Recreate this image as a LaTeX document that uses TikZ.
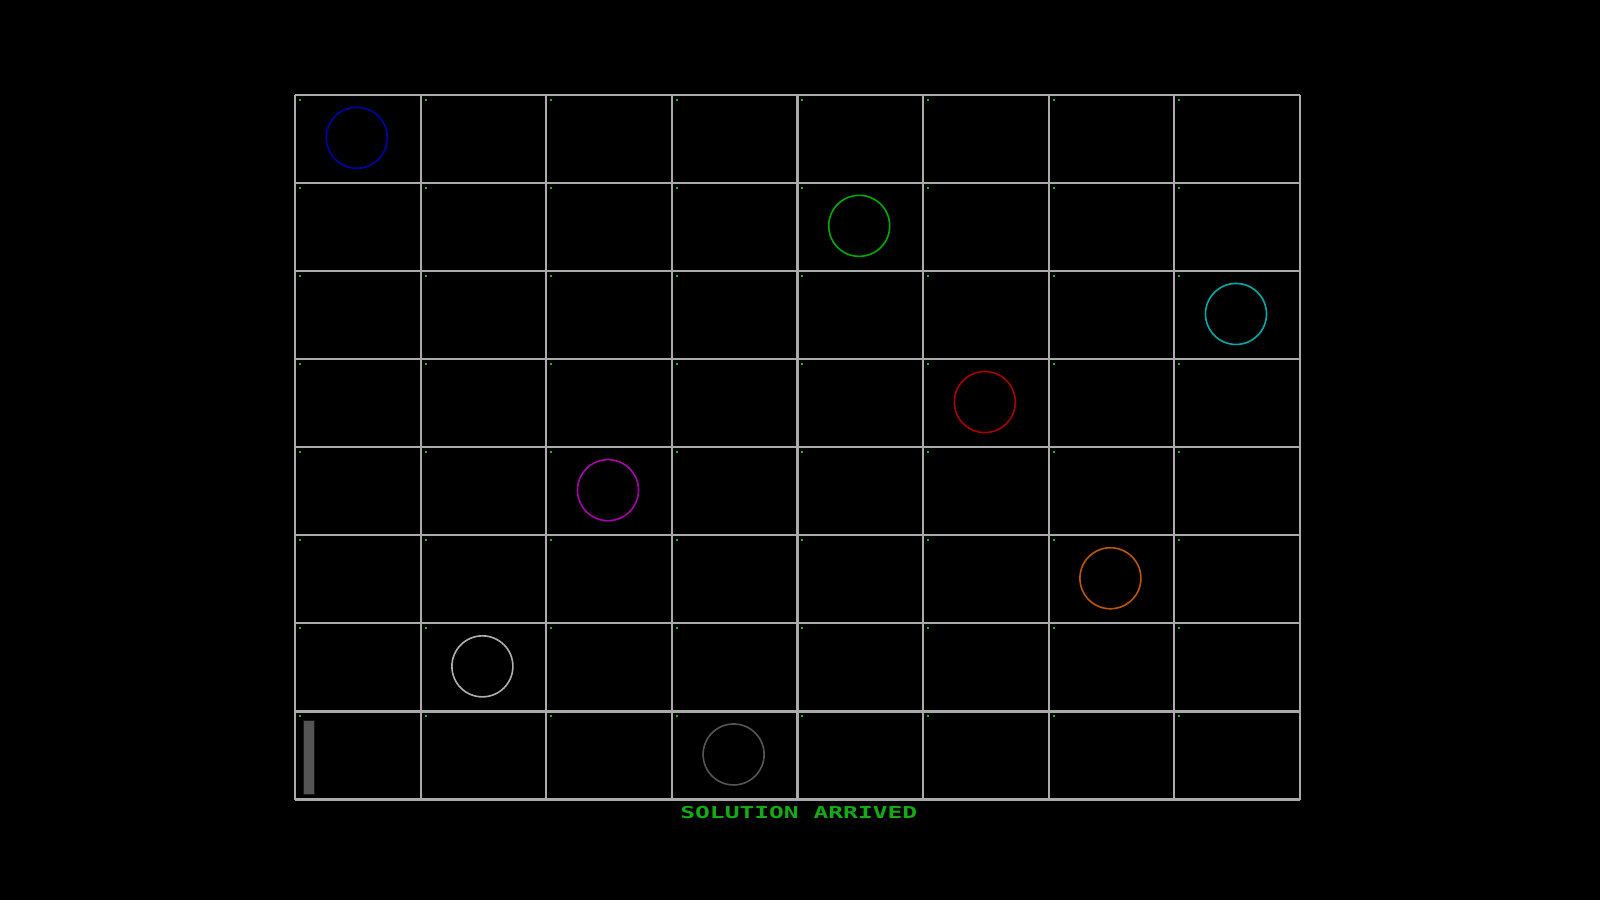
\documentclass[tikz,border=0pt]{standalone}
\usepackage{fontspec}
\newfontfamily\monofont{DejaVu Sans Mono}
\definecolor{gridc}{RGB}{170,170,170}
\definecolor{qblue}{RGB}{0,0,170}
\definecolor{qgreen}{RGB}{0,170,0}
\definecolor{qcyan}{RGB}{0,170,170}
\definecolor{qred}{RGB}{170,0,0}
\definecolor{qmag}{RGB}{170,0,170}
\definecolor{qorange}{RGB}{190,85,0}
\definecolor{qlight}{RGB}{175,175,175}
\definecolor{qdark}{RGB}{85,85,85}
\definecolor{dotc}{RGB}{0,200,0}
\definecolor{txtc}{RGB}{20,170,20}
\definecolor{barc}{RGB}{85,85,85}
\begin{document}
\begin{tikzpicture}[x=1pt,y=-1pt,
  gridline/.style={draw=gridc,line width=2.2pt},
  queen/.style={circle,draw=#1,line width=1.6pt,minimum size=61pt,inner sep=0pt},
  dotmark/.style={fill=dotc}]
\fill[black] (0,0) rectangle (1600,900);
\useasboundingbox (0,0) rectangle (1600,900);
\pgfmathsetmacro{\cw}{125.6}
\pgfmathsetmacro{\ch}{88.1}
\def\gx{295}
\def\gy{94.7}
% grid
\foreach \i in {0,...,8}{
  \draw[gridline] ({\gx+\i*\cw},\gy) -- ({\gx+\i*\cw},{\gy+8*\ch});
  \draw[gridline] (\gx,{\gy+\i*\ch}) -- ({\gx+8*\cw},{\gy+\i*\ch});
}
% dots
\foreach \r in {0,...,7}{
  \foreach \c in {0,...,7}{
    \fill[dotmark] ({\gx+\c*\cw+4},{\gy+\r*\ch+4}) rectangle ++(2,2);
  }
}
% queens
\foreach \r/\c/\col [count=\k] in {0/0/qblue,1/4/qgreen,2/7/qcyan,3/5/qred,4/2/qmag,5/6/qorange,6/1/qlight,7/3/qdark}{
  \node[queen=\col] (q\k) at ({\gx+(\c+0.5)*\cw-1},{\gy+(\r+0.5)*\ch-1}) {};
}
% bar
\filldraw[fill=barc,draw=black!70!barc,line width=0.8pt] (303,720.5) rectangle (314,794.5);
% text
\node[text=txtc,font=\monofont\bfseries\fontsize{16.4}{18}\selectfont,xscale=1.5,inner sep=0pt] (msg) at (798.8,812.5) {SOLUTION ARRIVED};
\end{tikzpicture}
\end{document}
